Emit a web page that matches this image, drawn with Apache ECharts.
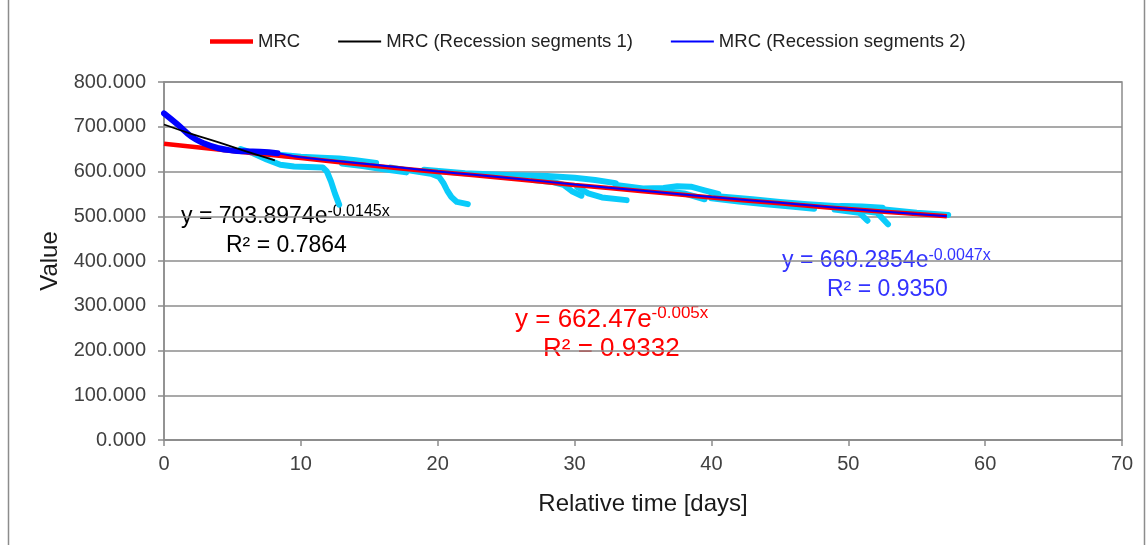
<!DOCTYPE html>
<html>
<head>
<meta charset="utf-8">
<script src="https://cdn.jsdelivr.net/npm/echarts@6/dist/echarts.min.js"></script>
<style>
  html, body { margin: 0; padding: 0; background: #fff; }
  #chart { width: 1147px; height: 545px; }
</style>
</head>
<body>
<div id="chart"></div>
<script>
// ---------- data ----------
const xTicks = [0, 10, 20, 30, 40, 50, 60, 70];
const yTicks = [0, 100, 200, 300, 400, 500, 600, 700, 800];

const seriesNames = ['MRC', 'MRC (Recession segments 1)', 'MRC (Recession segments 2)'];

// Master recession curve (red)
const mrc = [[0,662],[5,646],[10,630],[15,614],[20,599],[25,585],[30,570],[35,556],[40,542],[45,529],[50,516],[55,505],[57.2,500]];

// Recession segments 1 fit (black)
const seg1Fit = [[0,705],[2,684],[4,665],[6,645],[8.1,625]];

// Recession segments 2 fit (blue)
const seg2Fit = [[0,730],[1,705],[2,678],[3,662],[4,652],[5,647],[6,645],[7,644],[8.3,641],[10,632],[15,616],[20,600],[25,586],[30,571],[35,557],[40,543],[45,530],[50,517],[55,505],[57.2,500]];
// initial (heavy) part of the blue curve
const seg2Head = [[0,730],[1,705],[2,678],[3,662],[4,652],[5,647],[6,645],[7,644],[8.3,641]];

// Observed recession segments (light blue)
const recA = [[5.6,650],[6.5,641],[7.5,627],[8.5,615],[9.5,611],[10.5,610],[11.6,609],[11.9,600],[12.2,578],[12.5,550],[12.8,526]];
const recB = [[8.6,637],[10,633],[11.5,631],[12.8,629],[14,625],[15.5,619]];
const recC = [[13,618],[14.5,612],[15.8,606],[17.7,598]];
const recD = [[16.5,609],[18,602],[19.5,595],[20.1,588],[20.4,575],[20.7,557],[21.0,543],[21.4,532],[22.2,527]];
const recE = [[19,604],[22,596],[25,592],[28,590],[30,586],[31.5,581],[33,574]];
const recF = [[27,581],[28.5,576],[29.2,570],[29.8,556],[30.5,546]];
const recG = [[30.2,565],[31,551],[32,542],[33.8,536]];
const recH = [[33,570],[35,562],[36.5,563],[37.5,567],[38.5,566],[39.5,558],[40.5,550]];
const recI = [[36.5,556],[38,551],[39.5,538]];
const recJ = [[40,546],[43,538],[45,532],[47,527],[49,523],[51,520],[53,514],[55,508],[57.3,503]];
const recK = [[40,540],[42,533],[44,527],[46,521],[47.5,517]];
const recL = [[49,515],[50.8,508],[51.4,490]];
const recM = [[51,512],[52.1,508],[52.9,482]];
const recN = [[49.5,523],[51,522],[52.5,519]];
const recessions = [recA, recB, recC, recD, recE, recF, recG, recH, recI, recJ, recK, recL, recM, recN];

// fitted equations (annotations)
const eqBlack = { base: 'y = 703.8974e', exp: '-0.0145x', r2: 'R² = 0.7864' };
const eqBlue  = { base: 'y = 660.2854e', exp: '-0.0047x', r2: 'R² = 0.9350' };
const eqRed   = { base: 'y = 662.47e',   exp: '-0.005x',  r2: 'R² = 0.9332' };

// ---------- chart ----------
const FONT = '"Liberation Sans", Arial, sans-serif';
const CYAN = '#0ACBFA';
const chart = echarts.init(document.getElementById('chart'));

const measureCtx = document.createElement('canvas').getContext('2d');
function textWidth(t, size) {
  measureCtx.font = size + 'px ' + FONT;
  return measureCtx.measureText(t).width;
}
function equation(eq, x, y, size, supSize, color) {
  const w = textWidth(eq.base, size);
  const supY = y - 0.36 * size - 3 + 0.36 * supSize;
  return [
    { type: 'text', x: x, y: y, silent: true, style: { text: eq.base, fill: color, fontSize: size, fontFamily: FONT, verticalAlign: 'middle', align: 'left' } },
    { type: 'text', x: x + w, y: supY, silent: true, style: { text: eq.exp, fill: color, fontSize: supSize, fontFamily: FONT, verticalAlign: 'middle', align: 'left' } }
  ];
}
function r2(eq, x, y, size, color) {
  return { type: 'text', x: x, y: y, silent: true, style: { text: eq.r2, fill: color, fontSize: size, fontFamily: FONT, verticalAlign: 'middle', align: 'left' } };
}

const series = [];
recessions.forEach(function (seg) {
  series.push({
    type: 'line', data: seg, showSymbol: false, symbol: 'none', silent: true,
    lineStyle: { color: CYAN, width: 6, cap: 'round', join: 'round' }, z: 2
  });
});
series.push({
  name: seriesNames[0], type: 'line', data: mrc, symbol: 'none', smooth: true,
  lineStyle: { color: '#FF0000', width: 4.5 }, itemStyle: { color: '#FF0000' }, z: 3
});
series.push({
  type: 'line', data: seg2Head, symbol: 'none', smooth: true, silent: true,
  lineStyle: { color: '#0000FF', width: 6, cap: 'round', join: 'round' }, z: 4
});
series.push({
  name: seriesNames[2], type: 'line', data: seg2Fit, symbol: 'none', smooth: true,
  lineStyle: { color: '#0000FF', width: 2 }, itemStyle: { color: '#0000FF' }, z: 4
});
series.push({
  name: seriesNames[1], type: 'line', data: seg1Fit, symbol: 'none', smooth: true,
  lineStyle: { color: '#000000', width: 1.8 }, itemStyle: { color: '#000000' }, z: 5
});

const thickIcon = 'path://M0,0 L43,0 L43,4.5 L0,4.5 Z';
const thinIcon = 'path://M0,0 L43,0 L43,2 L0,2 Z';

const option = {
  animation: false,
  backgroundColor: '#ffffff',
  textStyle: { fontFamily: FONT },
  legend: {
    data: [
      { name: seriesNames[0], icon: thickIcon },
      { name: seriesNames[1], icon: thinIcon },
      { name: seriesNames[2], icon: thinIcon }
    ],
    left: 205, top: 27,
    itemWidth: 43, itemHeight: 14, itemGap: 38,
    textStyle: { fontSize: 18.5, color: '#222', fontFamily: FONT }
  },
  grid: { left: 164, right: 25, top: 82, bottom: 105, show: true, borderColor: '#8c8c8c', borderWidth: 1.5, backgroundColor: 'transparent' },
  xAxis: {
    type: 'value', min: xTicks[0], max: xTicks[xTicks.length - 1], interval: 10,
    name: 'Relative time [days]', nameLocation: 'middle', nameGap: 52,
    nameTextStyle: { fontSize: 24, color: '#1a1a1a', fontFamily: FONT },
    axisLine: { show: true, lineStyle: { color: '#8c8c8c', width: 1.5 } },
    axisTick: { show: true, inside: false, length: 6, lineStyle: { color: '#8c8c8c', width: 1.5 } },
    axisLabel: { fontSize: 20, color: '#404040', margin: 14, fontFamily: FONT },
    splitLine: { show: false }
  },
  yAxis: {
    type: 'value', min: yTicks[0], max: yTicks[yTicks.length - 1], interval: 100,
    name: 'Value', nameLocation: 'middle', nameGap: 100, nameRotate: 90,
    nameTextStyle: { fontSize: 24, color: '#1a1a1a', fontFamily: FONT },
    axisLine: { show: true, lineStyle: { color: '#8c8c8c', width: 1.5 } },
    axisTick: { show: true, inside: false, length: 6, lineStyle: { color: '#8c8c8c', width: 1.5 } },
    axisLabel: { fontSize: 20, color: '#404040', margin: 18, fontFamily: FONT, formatter: function (v) { return v.toFixed(3); } },
    splitLine: { show: true, lineStyle: { color: '#8c8c8c', width: 1.5 } }
  },
  series: series,
  graphic: [].concat(
    [{ type: 'rect', silent: true, shape: { x: 8.5, y: -5, width: 1136, height: 560 }, style: { fill: 'none', stroke: '#8c8c8c', lineWidth: 1.5 }, z: -10 }],
    equation(eqBlack, 181, 217, 23, 16, '#000000'),
    [r2(eqBlack, 226, 246, 23, '#000000')],
    equation(eqBlue, 782, 261, 23, 16, '#3333FF'),
    [r2(eqBlue, 827, 290, 23, '#3333FF')],
    equation(eqRed, 515, 320, 26, 17, '#FF0000'),
    [r2(eqRed, 543, 349, 26, '#FF0000')]
  )
};
chart.setOption(option);
</script>
</body>
</html>
